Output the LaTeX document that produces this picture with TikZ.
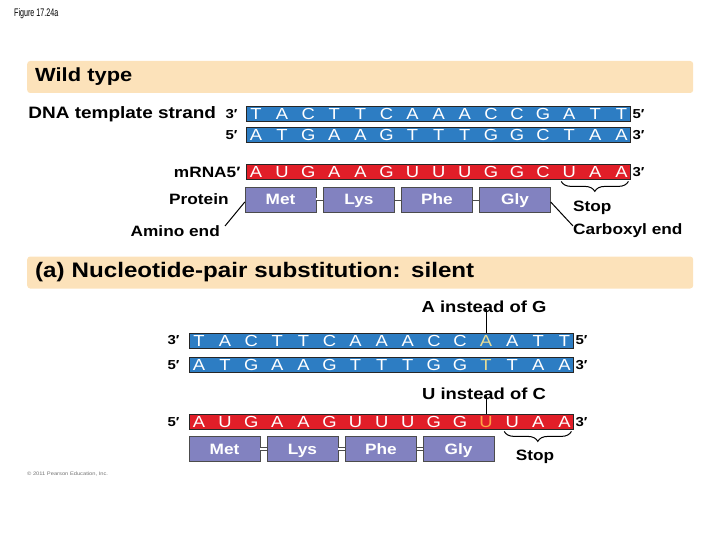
\documentclass[tikz,border=0pt]{standalone}
\usepackage{fontspec}
\setmainfont[FakeStretch=1.15]{Liberation Sans}
\newfontfamily\narrowfont[FakeStretch=0.65]{Liberation Sans}
\usetikzlibrary{positioning, calc, decorations.pathreplacing}
\definecolor{dnablue}{RGB}{45,125,195}
\definecolor{rnared}{RGB}{225,30,40}
\definecolor{protblue}{RGB}{130,130,192}
\definecolor{bandtan}{RGB}{252,226,186}
\definecolor{mutA}{RGB}{232,222,150}
\definecolor{mutU}{RGB}{255,165,70}
\tikzset{strand/.style={draw=black!85, fill=dnablue, minimum width=384pt, minimum height=15pt, inner sep=0pt, line width=0.8pt},
         mrna/.style={strand, fill=rnared},
         base/.style={text=white, font=\fontsize{16}{16}\selectfont, inner sep=0pt},
         aa/.style={draw=black!70, fill=protblue, minimum width=71pt, minimum height=25pt, inner sep=0pt, text=white,
                    text height=13.5pt, text depth=3pt, font=\bfseries\fontsize{15}{15}\selectfont},
         link/.style={draw=black!70, double=white, double distance=2pt, line width=0.6pt},
         band/.style={fill=bandtan, rounded corners=3pt, anchor=west, text width=650pt, inner xsep=8pt, minimum height=32pt, align=left},
         lbl/.style={font=\bfseries\fontsize{15}{15}\selectfont, inner sep=0pt},
         prime/.style={font=\bfseries\fontsize{13}{13}\selectfont, inner sep=0pt},
         curly/.style={line width=1pt, decorate, decoration={brace, mirror, amplitude=10pt}},
         >=latex}

\begin{document}
\begin{tikzpicture}[x=1pt, y=-1pt]
    \useasboundingbox (0,0) rectangle (720,540);
    \node[anchor=west, inner sep=0pt, font=\narrowfont\fontsize{11}{11}\selectfont] (fig) at (14,14) {Figure 17.24a};

    % wild type
    \node[band, font=\bfseries\fontsize{19}{19}\selectfont] (wild) at (27,77) {Wild type};
    \node[strand] (wt) at (438,114) {};
    \node[strand] (wc) at (438,135) {};
    \node[mrna] (wr) at (438,172) {};
    \foreach \b [count=\i] in {T,A,C,T,T,C,A,A,A,C,C,G,A,T,T}
        \node[base] (wt\i) at (256+26.1*\i-26.1, 114) {\b};
    \foreach \b [count=\i] in {A,T,G,A,A,G,T,T,T,G,G,C,T,A,A}
        \node[base] (wc\i) at (256+26.1*\i-26.1, 135) {\b};
    \foreach \b [count=\i] in {A,U,G,A,A,G,U,U,U,G,G,C,U,A,A}
        \node[base] (wr\i) at (256+26.1*\i-26.1, 172) {\b};
    \node[prime, left=8pt of wt] (wt3) {3′};
    \node[prime, left=8pt of wc] (wc5) {5′};
    \node[prime, right=2pt of wt] (wt5) {5′};
    \node[prime, right=2pt of wc] (wc3) {3′};
    \node[prime, right=2pt of wr] (wr3) {3′};
    \node[lbl, left=5pt of wr] (mrna) {mRNA5′};
    \node[lbl, left=9pt of wt3, font=\bfseries\fontsize{16.5}{16.5}\selectfont] (tmpl) {DNA template strand};

    \node[aa] (met) at (280.5,199.5) {Met};
    \node[aa] (lys) at (359,199.5) {Lys};
    \node[aa] (phe) at (437,199.5) {Phe};
    \node[aa] (gly) at (515,199.5) {Gly};
    \draw[link] (met) -- (lys);
    \draw[link] (lys) -- (phe);
    \draw[link] (phe) -- (gly);
    \node[lbl, left=16pt of met] (prot) {Protein};
    \node[lbl, anchor=east] (amino) at (220,231) {Amino end};
    \node[lbl, anchor=west] (carb) at (573,231) {Carboxyl end};
    \draw[line width=1pt] ([xshift=5pt,yshift=5pt]amino.east) -- ([yshift=-2.5pt]met.west);
    \draw[line width=1pt] ([yshift=-2.5pt]gly.east) -- ([yshift=5pt]carb.west);
    \draw[curly] ([xshift=-8pt,yshift=-1.5pt]wr13 |- wr.south) -- ([xshift=7pt,yshift=-1.5pt]wr15 |- wr.south);
    \node[lbl, anchor=west] (stop) at (573,208) {Stop};

    % silent substitution
    \node[band, font=\bfseries\fontsize{21}{21}\selectfont] (silent) at (27,272.5) {(a) Nucleotide-pair substitution: silent};
    \node[strand] (mt) at (381,340.5) {};
    \node[strand] (mc) at (381,365) {};
    \node[mrna] (mr) at (381,422) {};
    \foreach \b [count=\i] in {T,A,C,T,T,C,A,A,A,C,C,\textcolor{mutA}{A},A,T,T}
        \node[base] (mt\i) at (199+26.1*\i-26.1, 340.5) {\b};
    \foreach \b [count=\i] in {A,T,G,A,A,G,T,T,T,G,G,\textcolor{mutA}{T},T,A,A}
        \node[base] (mc\i) at (199+26.1*\i-26.1, 365) {\b};
    \foreach \b [count=\i] in {A,U,G,A,A,G,U,U,U,G,G,\textcolor{mutU}{U},U,A,A}
        \node[base] (mr\i) at (199+26.1*\i-26.1, 422) {\b};
    \node[prime, left=9pt of mt] (mt3) {3′};
    \node[prime, left=9pt of mc] (mc5) {5′};
    \node[prime, left=9pt of mr] (mr5) {5′};
    \node[prime, right=2pt of mt] (mt5) {5′};
    \node[prime, right=2pt of mc] (mc3) {3′};
    \node[prime, right=2pt of mr] (mr3) {3′};

    \node[lbl, font=\bfseries\fontsize{16}{16}\selectfont] (insA) at (484,307) {A instead of G};
    \node[lbl, font=\bfseries\fontsize{16}{16}\selectfont] (insU) at (484,394) {U instead of C};
    \draw[line width=1pt] (mt12 |- insA.south) ++(0,-4) -- (mt12 |- mt.north);
    \draw[line width=1pt] (mr12 |- insU.south) ++(0,-4) -- (mr12 |- mr.north);

    \node[aa] (met2) at (224.5,449) {Met};
    \node[aa] (lys2) at (302.5,449) {Lys};
    \node[aa] (phe2) at (381,449) {Phe};
    \node[aa] (gly2) at (458.5,449) {Gly};
    \draw[link] (met2) -- (lys2);
    \draw[link] (lys2) -- (phe2);
    \draw[link] (phe2) -- (gly2);
    \draw[curly] ([xshift=-8pt,yshift=-1.5pt]mr13 |- mr.south) -- ([xshift=7pt,yshift=-1.5pt]mr15 |- mr.south);
    \node[lbl] (stop2) at (535,457) {Stop};

    \node[anchor=west, inner sep=0pt, text=black!55, font=\fontsize{5}{5}\selectfont] (copy) at (27,474) {© 2011 Pearson Education, Inc.};
\end{tikzpicture}
\end{document}
